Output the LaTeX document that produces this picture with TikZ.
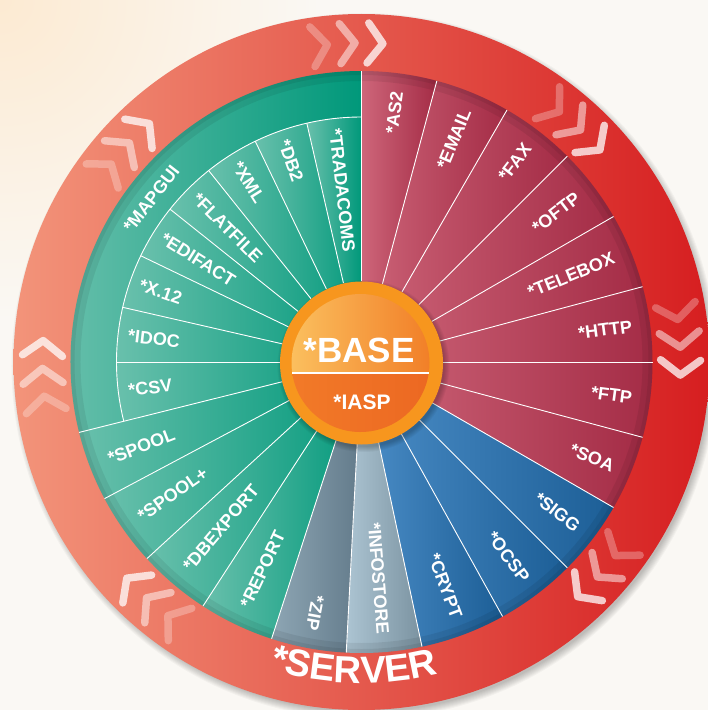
\documentclass[tikz,border=0pt]{standalone}
\usepackage{fontspec}
\setmainfont{Liberation Sans}
\usetikzlibrary{decorations.text}

\definecolor{bgcream}{RGB}{250,248,244}
\definecolor{bgglow}{RGB}{252,234,210}
\definecolor{ringL}{RGB}{243,148,122}
\definecolor{ringR}{RGB}{214,30,32}
\definecolor{grnL}{RGB}{105,192,172}
\definecolor{grnR}{RGB}{0,152,122}
\definecolor{redL}{RGB}{206,102,122}
\definecolor{redR}{RGB}{164,44,70}
\definecolor{bluL}{RGB}{76,142,200}
\definecolor{bluR}{RGB}{28,94,150}
\definecolor{zipL}{RGB}{142,166,180}
\definecolor{zipR}{RGB}{98,122,138}
\definecolor{infL}{RGB}{172,196,210}
\definecolor{infR}{RGB}{122,146,160}
\definecolor{orgRing}{RGB}{247,150,30}
\definecolor{orgL}{RGB}{251,192,95}
\definecolor{orgR}{RGB}{241,125,38}
\definecolor{orgLowL}{RGB}{242,122,40}
\definecolor{orgLowR}{RGB}{236,104,34}

\begin{document}
\begin{tikzpicture}[x=1pt, y=1pt,
    grnsec/.style={left color=grnL, right color=grnR},
    redsec/.style={left color=redL, right color=redR},
    blusec/.style={left color=bluL, right color=bluR},
    sepline/.style={white, line width=0.9pt},
    lbl/.style={text=white, inner sep=0pt, font=\bfseries\fontsize{18}{18}\selectfont},
    chev/.pic={\draw[white, line width=7.5pt, line cap=round, line join=round] (-7.5,20) -- (7.5,0) -- (-7.5,-20);}]

        \useasboundingbox (-361.5,-348) rectangle (346.5,362);
        % background and wheel shadow
        \begin{scope}
            \clip (-361.5,-348) rectangle (346.5,362);
            \fill[bgcream] (-361.5,-348) rectangle (346.5,362);
            \shade[inner color=bgglow, outer color=bgcream] (-361.5,362) circle (320);
            \foreach \s in {1,...,8}
                \fill[black, opacity=0.03] (3,-4) circle (345+\s);
        \end{scope}

        % outer ring
        \shade[left color=ringL, right color=ringR] (0,0) circle (348);

        % sectors
        \foreach \s/\e in {75/90,60/75,45/60,30/45,15/30,0/15,-15/0,-30/-15}
            \shade[redsec] (0,0) -- (\s:291) arc[start angle=\s, end angle=\e, radius=291] -- cycle;
        \foreach \s/\e in {-45/-30,-61/-45,-78/-61}
            \shade[blusec] (0,0) -- (\s:291) arc[start angle=\s, end angle=\e, radius=291] -- cycle;
        \shade[left color=infL, right color=infR] (0,0) -- (-93:291) arc[start angle=-93, end angle=-78, radius=291] -- cycle;
        \shade[left color=zipL, right color=zipR] (0,0) -- (-108:291) arc[start angle=-108, end angle=-93, radius=291] -- cycle;
        \foreach \s/\e in {194/208,208/222.5,222.5/237,237/252}
            \shade[grnsec] (0,0) -- (\s:291) arc[start angle=\s, end angle=\e, radius=291] -- cycle;
        \shade[grnsec] (90:245) arc[start angle=90, end angle=194, radius=245] -- (194:291) arc[start angle=194, end angle=90, radius=291] -- cycle;
        \foreach \s/\e in {90/102.9,102.9/115.7,115.7/128.6,128.6/141.4,141.4/154.3,154.3/167.1,167.1/180,180/194}
            \shade[grnsec] (0,0) -- (\s:245) arc[start angle=\s, end angle=\e, radius=245] -- cycle;

        % ring shadow on the disc
        \draw[black, opacity=0.07, line width=10pt] (0,0) circle (286);
        \draw[black, opacity=0.07, line width=4pt] (0,0) circle (289);

        % separators
        \foreach \a in {90,75,60,45,30,15,0,-15,-30,-45,-61,-78,-93,-108,237,222.5,208,194}
            \draw[sepline] (\a:81) -- (\a:291);
        \foreach \a in {180,167.1,154.3,141.4,128.6,115.7,102.9}
            \draw[sepline] (\a:81) -- (\a:245);
        \draw[sepline] (90:245) arc[start angle=90, end angle=194, radius=245];

        % chevrons on the ring
        \foreach \a in {92.5,48,4,-41,-131,-177.5,138} {
            \pic[rotate=\a-85, opacity=0.28] at (\a+5:319) {chev};
            \pic[rotate=\a-90, opacity=0.5] at (\a:319) {chev};
            \pic[rotate=\a-95, opacity=0.75] at (\a-5:319) {chev};
        }

        % ring title
        \path[decorate, decoration={text along path, text align=center, text color=white,
            text={|\bfseries\fontsize{38}{38}\selectfont|*SERVER}}]
            (238.6:321) arc[start angle=238.6, end angle=298.6, radius=321];

        % center
        \foreach \s in {1,...,6}
            \fill[black, opacity=0.04] (2,-4) circle (80+\s);
        \fill[orgRing] (0,-1) circle (81.5);
        \shade[left color=orgL, right color=orgR] (-1,-1) ++(-8.3:69) arc[start angle=-8.3, end angle=188.3, radius=69] -- cycle;
        \shade[left color=orgLowL, right color=orgLowR] (-1,-1) ++(188.3:69) arc[start angle=188.3, end angle=351.7, radius=69] -- cycle;
        \draw[white, line width=2pt] (-69.3,-11) -- (67.3,-11);
        \node[text=white, font=\bfseries\fontsize{35}{35}\selectfont] (base) at (-2.5,12) {*BASE};
        \node[text=white, font=\bfseries\fontsize{21}{21}\selectfont] (iasp) at (0.5,-40) {*IASP};

        % right half labels
        \node[lbl, anchor=east, rotate=82.5] (as2) at (82.5:273) {*AS2};
        \node[lbl, anchor=east, rotate=67.5] (email) at (67.5:273) {*EMAIL};
        \node[lbl, anchor=east, rotate=52.5] (fax) at (52.5:273) {*FAX};
        \node[lbl, anchor=east, rotate=37.5] (oftp) at (37.5:273) {*OFTP};
        \node[lbl, anchor=east, rotate=22.5] (telebox) at (22.5:273) {*TELEBOX};
        \node[lbl, anchor=east, rotate=7.5] (http) at (7.5:273) {*HTTP};
        \node[lbl, anchor=east, rotate=-7.5] (ftp) at (-7.5:273) {*FTP};
        \node[lbl, anchor=east, rotate=-22.5] (soa) at (-22.5:273) {*SOA};
        \node[lbl, anchor=east, rotate=-37.5] (sigg) at (-37.5:273) {*SIGG};
        \node[lbl, anchor=east, rotate=-53] (ocsp) at (-53:273) {*OCSP};
        \node[lbl, anchor=east, rotate=-69.5] (crypt) at (-69.5:273) {*CRYPT};
        \node[lbl, anchor=east, rotate=-85.5] (infostore) at (-85.5:273) {*INFOSTORE};
        \node[lbl, anchor=east, rotate=-100.5] (zip) at (-100.5:273) {*ZIP};

        % left half labels
        \node[lbl, anchor=west, rotate=64.5] (report) at (244.5:271) {*REPORT};
        \node[lbl, anchor=west, rotate=49.7] (dbexport) at (229.7:271) {*DBEXPORT};
        \node[lbl, anchor=west, rotate=35] (spoolplus) at (215:271) {*SPOOL+};
        \node[lbl, anchor=west, rotate=21] (spool) at (201:271) {*SPOOL};
        \node[lbl, anchor=west, rotate=7] (csv) at (187:235) {*CSV};
        \node[lbl, anchor=west, rotate=-6.4] (idoc) at (173.6:235) {*IDOC};
        \node[lbl, anchor=west, rotate=-19.3] (x12) at (160.7:235) {*X.12};
        \node[lbl, anchor=west, rotate=-32.1] (edifact) at (147.9:235) {*EDIFACT};
        \node[lbl, anchor=west, rotate=-45] (flatfile) at (135:235) {*FLATFILE};
        \node[lbl, anchor=west, rotate=-57.9] (xml) at (122.1:235) {*XML};
        \node[lbl, anchor=west, rotate=-70.7] (db2) at (109.3:235) {*DB2};
        \node[lbl, anchor=west, rotate=-83.6] (tradacoms) at (96.4:235) {*TRADACOMS};
        \node[lbl, rotate=52] (mapgui) at (142.2:266) {*MAPGUI};
    \end{tikzpicture}
\end{document}
